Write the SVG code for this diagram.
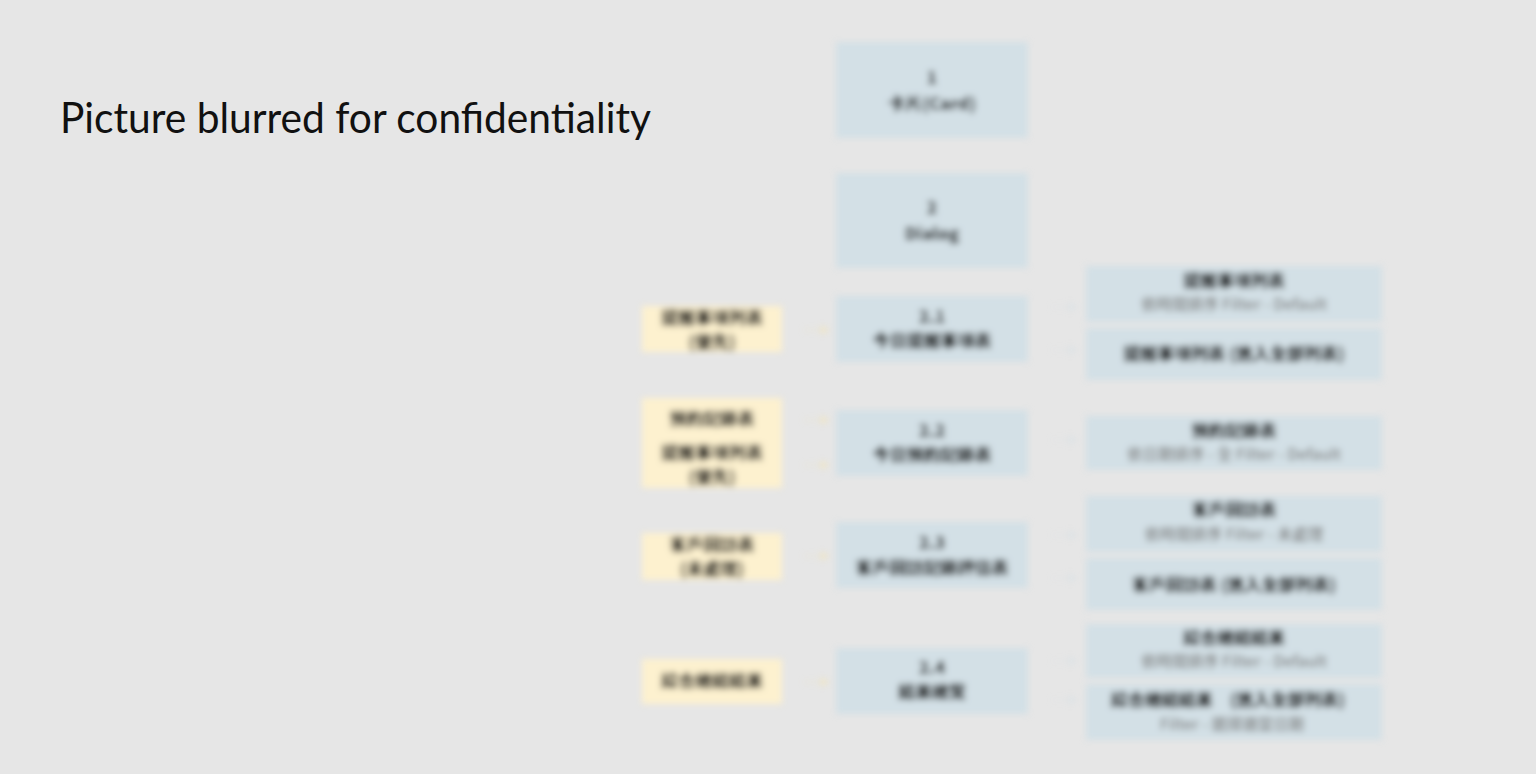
<svg xmlns="http://www.w3.org/2000/svg" width="1536" height="774" viewBox="0 0 1536 774">
<defs>
<filter id="blur" x="-5%" y="-5%" width="110%" height="110%"><feGaussianBlur stdDeviation="3.2"/></filter>
<marker id="ay" markerWidth="8" markerHeight="8" refX="7" refY="4" orient="auto" markerUnits="userSpaceOnUse"><path d="M0,0 L8,4 L0,8 z" fill="#f6e6b4"/></marker>
<marker id="ab" markerWidth="8" markerHeight="8" refX="7" refY="4" orient="auto" markerUnits="userSpaceOnUse"><path d="M0,0 L8,4 L0,8 z" fill="#d6e1e6"/></marker>
</defs>
<style>
.blue{fill:#d3e0e6}
.yel{fill:#fdf1cf}
.t{font-family:"Noto Sans CJK TC","Noto Sans CJK SC","Noto Sans",sans-serif;font-weight:900;font-size:17px;fill:#000;text-anchor:middle}
.g{font-family:"Noto Sans CJK TC","Noto Sans CJK SC","Noto Sans",sans-serif;font-weight:500;font-size:15.5px;fill:#7a7a7a;text-anchor:middle}
.cy{stroke:#ece3c6;stroke-width:1;fill:none;marker-end:url(#ay);opacity:0.8}
.cb{stroke:#dbe2e5;stroke-width:1;fill:none;marker-end:url(#ab);opacity:0.8}
</style>
<rect width="1536" height="774" fill="#e6e6e6"/>
<text x="60" y="133" font-family="Lato, 'Noto Sans', sans-serif" font-size="42" fill="#111" textLength="591" lengthAdjust="spacingAndGlyphs">Picture blurred for confidentiality</text>
<g id="diagram" filter="url(#blur)">
<g id="connectors">
<line class="cy" x1="804" y1="330" x2="828" y2="330"/>
<line class="cy" x1="804" y1="420" x2="828" y2="420"/>
<line class="cy" x1="804" y1="465" x2="828" y2="465"/>
<line class="cy" x1="804" y1="556" x2="828" y2="556"/>
<line class="cy" x1="804" y1="682" x2="828" y2="682"/>
<line class="cb" x1="1052" y1="307" x2="1076" y2="307"/>
<line class="cb" x1="1052" y1="350" x2="1076" y2="350"/>
<line class="cb" x1="1052" y1="440" x2="1076" y2="440"/>
<line class="cb" x1="1052" y1="535" x2="1076" y2="535"/>
<line class="cb" x1="1052" y1="578" x2="1076" y2="578"/>
<line class="cb" x1="1052" y1="661" x2="1076" y2="661"/>
<line class="cb" x1="1052" y1="700" x2="1076" y2="700"/>
</g>
<g id="n1"><rect class="blue" x="836" y="42" width="192" height="96"/><text class="t" x="932" y="84">1</text><text class="t" x="932" y="110">卡片(Card)</text></g>
<g id="n2"><rect class="blue" x="836" y="173" width="192" height="95"/><text class="t" x="932" y="214">2</text><text class="t" x="932" y="240">Dialog</text></g>
<g id="n21"><rect class="blue" x="836" y="296" width="192" height="66"/><text class="t" x="932" y="323">2.1</text><text class="t" x="932" y="347">今日提醒事項表</text></g>
<g id="n22"><rect class="blue" x="836" y="410" width="192" height="66"/><text class="t" x="932" y="437">2.2</text><text class="t" x="932" y="461">今日預約記錄表</text></g>
<g id="n23"><rect class="blue" x="836" y="522" width="192" height="66"/><text class="t" x="932" y="549">2.3</text><text class="t" x="932" y="574">客戶回訪記錄評估表</text></g>
<g id="n24"><rect class="blue" x="836" y="648" width="192" height="66"/><text class="t" x="932" y="674">2.4</text><text class="t" x="932" y="698">結果總覽</text></g>
<g id="y1"><rect class="yel" x="642" y="306" width="140" height="46"/><text class="t" x="712" y="324">提醒事項列表</text><text class="t" x="712" y="348">(優先)</text></g>
<g id="y2"><rect class="yel" x="642" y="398" width="140" height="90"/><text class="t" x="712" y="425">預約記錄表</text><text class="t" x="712" y="459">提醒事項列表</text><text class="t" x="712" y="483">(優先)</text></g>
<g id="y3"><rect class="yel" x="642" y="533" width="140" height="47"/><text class="t" x="712" y="551">客戶回訪表</text><text class="t" x="712" y="575">(未處理)</text></g>
<g id="y4"><rect class="yel" x="642" y="659" width="140" height="45"/><text class="t" x="712" y="687">綜合總結結果</text></g>
<g id="r1"><rect class="blue" x="1086" y="266" width="296" height="56"/><text class="t" x="1234" y="287">提醒事項列表</text><text class="g" x="1234" y="310">依時間排序 Filter - Default</text></g>
<g id="r2"><rect class="blue" x="1086" y="328" width="296" height="52"/><text class="t" x="1234" y="360" font-size="18">提醒事項列表 (進入全部列表)</text></g>
<g id="r3"><rect class="blue" x="1086" y="416" width="296" height="54"/><text class="t" x="1234" y="437">預約記錄表</text><text class="g" x="1234" y="460">依日期排序 - 全 Filter - Default</text></g>
<g id="r4"><rect class="blue" x="1086" y="496" width="296" height="56"/><text class="t" x="1234" y="516">客戶回訪表</text><text class="g" x="1234" y="540">依時間排序 Filter - 未處理</text></g>
<g id="r5"><rect class="blue" x="1086" y="558" width="296" height="52"/><text class="t" x="1234" y="591" font-size="18">客戶回訪表 (進入全部列表)</text></g>
<g id="r6"><rect class="blue" x="1086" y="624" width="296" height="54"/><text class="t" x="1234" y="644">綜合總結結果</text><text class="g" x="1234" y="667">依時間排序 Filter - Default</text></g>
<g id="r7"><rect class="blue" x="1086" y="684" width="296" height="56"/><text class="t" x="1228" y="706" font-size="18">綜合總結結果　(進入全部列表)</text><text class="g" x="1232" y="730">Filter - 選擇適當日期</text></g>
</g>
</svg>
